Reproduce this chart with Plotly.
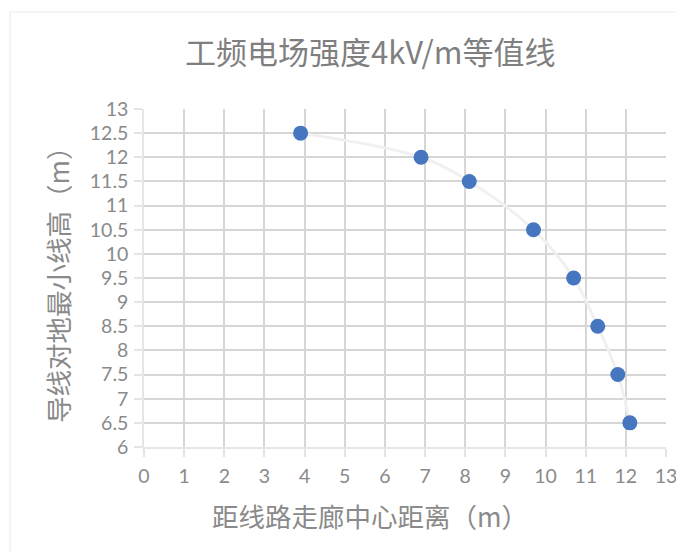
import plotly.graph_objects as go

distance_m = [3.9, 6.9, 8.1, 9.7, 10.7, 11.3, 11.8, 12.1]
height_m = [12.5, 12.0, 11.5, 10.5, 9.5, 8.5, 7.5, 6.5]

x_ticks = list(range(0, 14))
y_ticks = [6, 6.5, 7, 7.5, 8, 8.5, 9, 9.5, 10, 10.5, 11, 11.5, 12, 12.5, 13]
y_tick_text = ["6", "6.5", "7", "7.5", "8", "8.5", "9", "9.5", "10", "10.5", "11", "11.5", "12", "12.5", "13"]

title_text = "工频电场强度4kV/m等值线"
x_title = "距线路走廊中心距离（m）"
y_title = "导线对地最小线高（m）"

FONT = "Noto Sans CJK SC"
TICK_FONT = "Lato"
OFF = 8  # page body margin
W, H = 684 - OFF, 560 - 2 * OFF
# target pixel positions in the window
PL, PR, PT, PB = 144, 666.5, 109, 447
L, R = PL - OFF, (OFF + W) - PR
T, B = PT - OFF, (OFF + H) - PB
pw, ph = W - L - R, H - T - B

fig = go.Figure()
fig.add_trace(go.Scatter(
    x=distance_m, y=height_m, mode="lines",
    line=dict(color="#f0f0f0", width=3, shape="spline", smoothing=1.0),
    hoverinfo="skip", showlegend=False,
))
fig.add_trace(go.Scatter(
    x=distance_m, y=height_m, mode="markers",
    marker=dict(color="#4676c0", size=15),
    showlegend=False,
))

axis_common = dict(
    showgrid=True, gridcolor="#d6d6d6", gridwidth=1.6,
    showline=True, linecolor="#e6e6e6", linewidth=1.5,
    ticks="outside", ticklen=8, tickcolor="#e4e4e4", tickwidth=1.5,
    zeroline=False, automargin=False,
    tickfont=dict(family=TICK_FONT, size=19.5, color="#8a8a8a"),
)

fig.update_xaxes(range=[0, 13], tickvals=x_ticks, ticktext=[str(v) for v in x_ticks],
                 ticklabelstandoff=3, **axis_common)
fig.update_yaxes(range=[6, 13], tickvals=y_ticks, ticktext=y_tick_text,
                 ticklabelstandoff=2, **axis_common)

def px_x(p):
    return (p - PL) / pw

def px_y(p):
    return (PB - p) / ph

fig.update_layout(
    width=W, height=H,
    margin=dict(l=L, r=R, t=T, b=B),
    paper_bgcolor="white", plot_bgcolor="white",
    font=dict(family=FONT),
    annotations=[
        dict(text=title_text, xref="paper", yref="paper", x=px_x(370), y=px_y(50),
             xanchor="center", yanchor="middle", showarrow=False,
             font=dict(family=FONT, size=31, color="#7f7f7f")),
        dict(text=x_title, xref="paper", yref="paper", x=px_x(370), y=px_y(515),
             xanchor="center", yanchor="middle", showarrow=False,
             font=dict(family=FONT, size=26.5, color="#8a8a8a")),
        dict(text=y_title, xref="paper", yref="paper", x=px_x(57), y=px_y(278),
             xanchor="center", yanchor="middle", showarrow=False, textangle=-90,
             font=dict(family=FONT, size=26.5, color="#8a8a8a")),
    ],
    shapes=[
        dict(type="rect", xref="paper", yref="paper",
             x0=px_x(10), x1=px_x(760), y0=px_y(600), y1=px_y(12),
             line=dict(color="#ececec", width=1.2), layer="below"),
    ],
)

fig.write_html("out.html")
